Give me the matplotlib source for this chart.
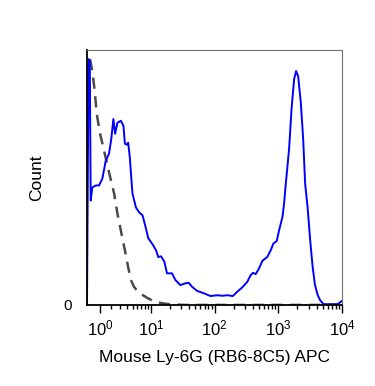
import matplotlib
matplotlib.use('Agg')
import matplotlib.pyplot as plt
import numpy as np

plt.rcParams['font.family'] = ['Liberation Sans', 'DejaVu Sans']
plt.rcParams['mathtext.fontset'] = 'custom'
plt.rcParams['mathtext.rm'] = 'Liberation Sans'
plt.rcParams['mathtext.it'] = 'Liberation Sans'

# x in display channel units (decades on the biexponential axis, 0..4)
stained_x = [0.0, 0.024, 0.044, 0.058, 0.083, 0.137, 0.189, 0.241, 0.294, 0.346,
             0.383, 0.414, 0.441, 0.477, 0.531, 0.572, 0.594, 0.625, 0.646, 0.672,
             0.698, 0.713, 0.767, 0.819, 0.871, 0.924, 0.961, 1.028, 1.082, 1.118,
             1.161, 1.213, 1.255, 1.334, 1.386, 1.465, 1.543, 1.595, 1.649, 1.728,
             1.831, 1.937, 2.043, 2.121, 2.200, 2.288, 2.357, 2.436, 2.515, 2.567,
             2.603, 2.646, 2.698, 2.751, 2.830, 2.882, 2.924, 2.976, 3.013, 3.066,
             3.091, 3.118, 3.170, 3.208, 3.249, 3.280, 3.312, 3.354, 3.391, 3.422,
             3.460, 3.501, 3.539, 3.575, 3.617, 3.658, 3.700, 3.721, 3.932, 4.0]
stained_y = [0.0, 96.5, 95.7, 41.0, 46.1, 46.9, 46.9, 49.6, 56.6, 59.4,
             65.6, 73.0, 67.2, 71.5, 72.3, 70.3, 63.3, 62.9, 63.7, 57.8,
             48.8, 43.8, 38.3, 36.3, 35.2, 30.1, 26.2, 23.8, 21.5, 18.8,
             19.1, 17.0, 12.4, 12.4, 9.8, 7.8, 8.5, 8.7, 7.1, 5.5,
             4.6, 3.5, 3.8, 3.6, 3.8, 3.5, 5.2, 6.9, 9.1, 11.7,
             12.6, 12.1, 14.3, 17.3, 18.9, 21.5, 24.1, 25.1, 29.3, 34.5,
             39.7, 47.5, 61.2, 76.8, 88.6, 91.8, 89.8, 79.4, 65.1, 47.5,
             38.4, 25.4, 15.0, 8.0, 4.0, 1.8, 0.6, 0.3, 0.3, 1.6]

isotype_x = [0.047, 0.083, 0.121, 0.153, 0.205, 0.268, 0.346, 0.425, 0.477, 0.540,
             0.594, 0.646, 0.688, 0.740, 0.819, 0.950, 1.028, 1.15, 1.31, 1.54, 4.0]
isotype_y = [96.5, 91.8, 84.0, 75.0, 67.2, 60.5, 52.0, 43.8, 35.9, 28.1,
             21.5, 14.8, 9.8, 7.0, 4.7, 2.7, 1.7, 0.8, 0.2, 0.0, 0.0]

decades = [0, 1, 2, 3, 4]


def chan(v):
    # biexponential-like display transform used by the cytometer axis
    return np.arcsinh(np.asarray(v, dtype=float) / 2) / np.log(10)


fig = plt.figure(figsize=(3.75, 3.86), dpi=100)
ax = fig.add_axes([0.232, 0.210, 0.680, 0.660])

ax.plot(isotype_x, isotype_y, color='#4a4a4a', lw=1.8, dashes=(4.5, 3))
ax.plot(stained_x, stained_y, color='#0000ff', lw=1.4)

ax.set_xlim(0, 4.0)
ax.set_ylim(0, 100)

major = chan([10.0 ** k for k in decades])
minor = chan([m * 10.0 ** k for k in decades[:-1] for m in range(2, 10)])
ax.set_xticks(major)
ax.set_xticklabels(['$10^{%d}$' % k for k in decades], fontsize=12)
ax.set_xticks(minor, minor=True)
ax.tick_params(axis='x', which='major', length=6, width=1, direction='out', pad=4)
ax.tick_params(axis='x', which='minor', length=3, width=1, direction='out')

ax.set_yticks([0])
ax.set_yticklabels(['0'], fontsize=11)
ax.tick_params(axis='y', length=0, pad=11)

for side in ['left', 'bottom']:
    ax.spines[side].set_color('black')
    ax.spines[side].set_linewidth(1.3)
for side in ['top', 'right']:
    ax.spines[side].set_color('#707070')
    ax.spines[side].set_linewidth(0.8)

ax.set_xlabel('Mouse Ly-6G (RB6-8C5) APC', fontsize=12.5, labelpad=8)
ax.set_ylabel('Count', fontsize=12.5, labelpad=14)

plt.savefig('out.png', dpi=100)
plt.close()
